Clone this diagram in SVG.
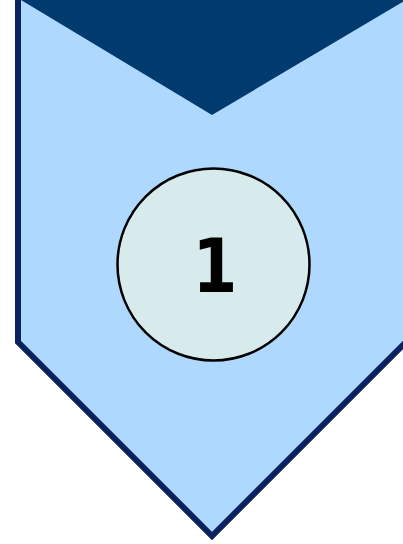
<svg xmlns="http://www.w3.org/2000/svg" width="403" height="544" viewBox="0 0 403 544">
<style>
.shape{fill:#AED8FD;stroke:#0B2260;stroke-width:6}
.notch{fill:#003A6F}
.badge{fill:#D7EBEC;stroke:#000;stroke-width:2.5}
.num{font-family:"DejaVu Sans",sans-serif;font-weight:bold;font-size:75px;fill:#000;text-anchor:middle}
</style>
<g id="chevron">
<polygon class="shape" points="18,-10 406,-10 406,342 212,536 18,342"/>
<polygon class="notch" points="21,0 406,0 212,115"/>
</g>
<g id="badge">
<circle class="badge" cx="213.5" cy="264.5" r="96"/>
<text class="num" transform="translate(215,292) scale(0.86,1)" x="0" y="0">1</text>
</g>
</svg>
